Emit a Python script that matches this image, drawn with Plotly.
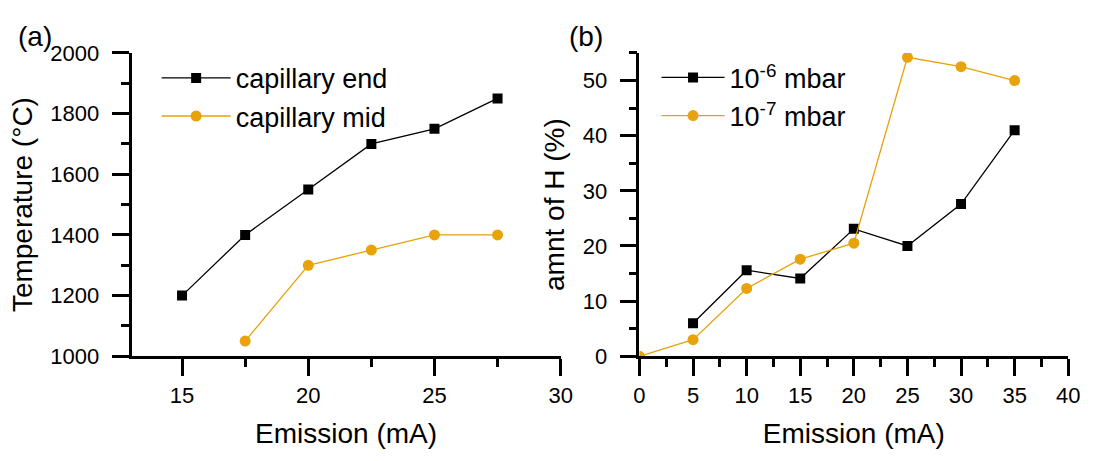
import plotly.graph_objects as go

# (a) temperature vs emission current
emission_a = [15, 17.5, 20, 22.5, 25, 27.5]
temp_end = [1200, 1400, 1550, 1700, 1750, 1850]
emission_a_mid = [17.5, 20, 22.5, 25, 27.5]
temp_mid = [1050, 1300, 1350, 1400, 1400]

# (b) hydrogen fraction vs emission current
emission_b6 = [5, 10, 15, 20, 25, 30, 35]
h_1e6 = [6, 15.6, 14.1, 23.1, 20, 27.6, 41]
emission_b7 = [0, 5, 10, 15, 20, 25, 30, 35]
h_1e7 = [0, 3, 12.3, 17.6, 20.5, 54.2, 52.5, 50]

BLACK = "#000000"
ORANGE = "#E8A20A"
FONT = "Arial, Liberation Sans, sans-serif"

fig = go.Figure()

fig.add_trace(go.Scatter(
    x=emission_a, y=temp_end, name="capillary end", mode="lines+markers",
    line=dict(color=BLACK, width=1.3), marker=dict(symbol="square", size=10, color=BLACK),
    xaxis="x", yaxis="y", legend="legend"))
fig.add_trace(go.Scatter(
    x=emission_a_mid, y=temp_mid, name="capillary mid", mode="lines+markers",
    line=dict(color=ORANGE, width=1.3), marker=dict(symbol="circle", size=11, color=ORANGE),
    xaxis="x", yaxis="y", legend="legend"))
fig.add_trace(go.Scatter(
    x=emission_b6, y=h_1e6, name="10<sup>-6</sup> mbar", mode="lines+markers",
    line=dict(color=BLACK, width=1.3), marker=dict(symbol="square", size=10, color=BLACK),
    xaxis="x2", yaxis="y2", legend="legend2"))
fig.add_trace(go.Scatter(
    x=emission_b7, y=h_1e7, name="10<sup>-7</sup> mbar", mode="lines+markers",
    line=dict(color=ORANGE, width=1.3), marker=dict(symbol="circle", size=11, color=ORANGE),
    xaxis="x2", yaxis="y2", legend="legend2"))

axis_common = dict(
    showline=True, linecolor=BLACK, linewidth=2.8, mirror=False,
    ticks="outside", ticklen=17, tickwidth=2.8, tickcolor=BLACK,
    showgrid=False, zeroline=False, tickfont=dict(family=FONT, size=22, color=BLACK),
    title_font=dict(family=FONT, size=28, color=BLACK),
    minor=dict(ticks="outside", ticklen=8, tickwidth=2.8, tickcolor=BLACK, showgrid=False),
)

y_dom = [0.2104, 0.9061]
legend_font = dict(family=FONT, size=27, color=BLACK)

fig.update_layout(
    width=1094, height=461,
    margin=dict(l=0, r=0, t=0, b=0),
    paper_bgcolor="white", plot_bgcolor="white",
    font=dict(family=FONT, color=BLACK),
    xaxis=dict(domain=[0.1167, 0.5155], range=[13, 30], tickvals=[15, 20, 25, 30],
               minor_tickvals=[17.5, 22.5, 27.5],
               title=dict(text="Emission (mA)", standoff=17), anchor="y", **axis_common),
    yaxis=dict(domain=y_dom, range=[1000, 2000], dtick=200,
               minor_tickvals=[1100, 1300, 1500, 1700, 1900],
               ticklabelstandoff=8,
               title=dict(text="Temperature (°C)", standoff=10), anchor="x", **axis_common),
    xaxis2=dict(domain=[0.5887, 0.9872], range=[0, 40], dtick=5,
                minor_tickvals=[2.5, 7.5, 12.5, 17.5, 22.5, 27.5, 32.5, 37.5],
                title=dict(text="Emission (mA)", standoff=17), anchor="y2", **axis_common),
    yaxis2=dict(domain=y_dom, range=[0, 55], tickvals=[0, 10, 20, 30, 40, 50],
                minor_tickvals=[5, 15, 25, 35, 45, 55],
                ticklabelstandoff=8,
                title=dict(text="amnt of H (%)", standoff=10), anchor="x2", **axis_common),
    legend=dict(x=0.140, y=0.904, xanchor="left", yanchor="top", font=legend_font,
                bgcolor="rgba(0,0,0,0)", itemwidth=69, tracegroupgap=0),
    legend2=dict(x=0.6046, y=0.905, xanchor="left", yanchor="top", font=legend_font,
                 bgcolor="rgba(0,0,0,0)", itemwidth=63, tracegroupgap=0),
    showlegend=True,
    annotations=[
        dict(text="(a)", x=0.009, y=0.944, xref="paper", yref="paper", xanchor="left",
             yanchor="middle", showarrow=False, font=dict(family=FONT, size=28, color=BLACK)),
        dict(text="(b)", x=0.521, y=0.944, xref="paper", yref="paper", xanchor="left",
             yanchor="middle", showarrow=False, font=dict(family=FONT, size=28, color=BLACK)),
    ],
)

fig.write_html("out.html")
